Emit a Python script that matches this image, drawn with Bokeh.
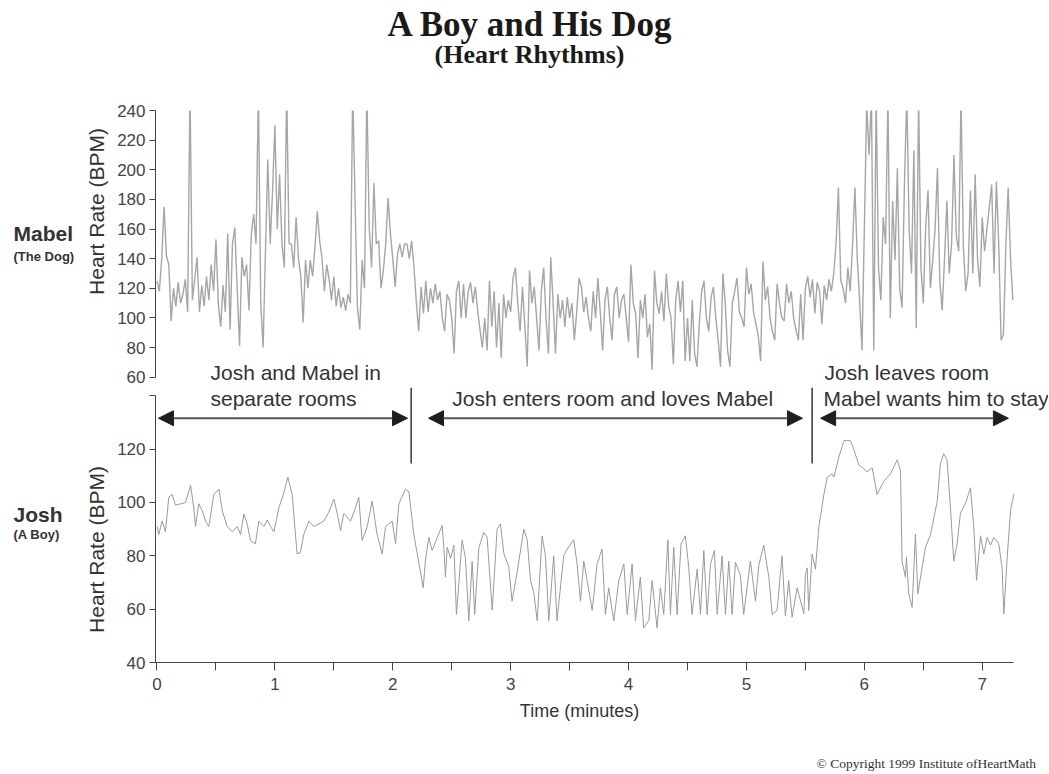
import numpy as np
from bokeh.plotting import figure
from bokeh.layouts import column, row
from bokeh.models import Label, Arrow, NormalHead, FixedTicker, Range1d, ColumnDataSource
from bokeh.embed import file_html
from bokeh.resources import INLINE

# ---------------- data ----------------
# Mabel (the dog): one reading every 1.2 s (0.02 min)
mabel_step_min = 0.02
mabel_apart = [
    125, 118, 140, 175, 142, 136, 98, 120, 108, 124,
    110, 116, 126, 104, 255, 112, 126, 141, 104, 122,
    108, 128, 112, 136, 118, 153, 110, 94, 122, 104,
    157, 92, 150, 161, 120, 81, 141, 128, 136, 105,
    157, 170, 150, 255, 110, 80, 145, 207, 150, 185,
    230, 160, 197, 150, 134, 255, 150, 150, 134, 168,
    140, 128, 97, 139, 120, 139, 128, 148, 172, 152,
    140, 118, 136, 126, 112, 128, 108, 120, 107, 114,
    105, 116, 110, 255, 179, 107, 92, 139, 120, 255,
    161, 134, 191, 150, 152, 120, 132, 150, 181, 157,
    140, 121, 143, 150, 141, 150, 150, 140,
]
mabel_together = [
    152, 134, 110, 91, 121, 103, 125, 104, 120, 110,
    123, 112, 118, 100, 91, 116, 112, 100, 76, 118,
    125, 100, 123, 100, 118, 124, 110, 121, 105, 92,
    80, 100, 78, 125, 94, 118, 80, 110, 73, 116,
    100, 112, 104, 127, 134, 110, 91, 121, 95, 67,
    132, 110, 121, 100, 78, 118, 134, 100, 76, 141,
    110, 76, 116, 100, 112, 94, 114, 100, 110, 85,
    104, 127, 121, 104, 114, 100, 91, 118, 100, 127,
    104, 78, 112, 121, 100, 85, 116, 121, 100, 112,
    116, 100, 84, 136, 110, 103, 73, 112, 100, 116,
    87, 96, 65, 132, 110, 103, 118, 98, 130, 108,
    100, 69, 112, 125, 104, 125, 71, 100, 71, 112,
    76, 67, 96, 118, 125, 100, 91, 114, 121, 100,
    85, 67, 130, 110, 78, 67, 110, 118, 127, 104,
    100, 94, 134, 116, 123, 104, 96, 88, 71, 138,
    112, 121, 100, 91, 85, 123, 110, 100, 98, 123,
    110, 118, 100, 92, 85, 116, 85, 120, 128, 114,
]
mabel_left = [
    126, 103, 124, 118, 96, 122, 112, 126, 118, 130,
    150, 188, 125, 120, 110, 134, 118, 150, 188, 140,
    112, 78, 160, 245, 210, 250, 78, 250, 134, 112,
    168, 150, 250, 100, 179, 139, 201, 120, 107, 190,
    250, 160, 130, 213, 93, 250, 134, 110, 161, 186,
    120, 139, 160, 201, 125, 105, 140, 179, 130, 150,
    210, 155, 145, 250, 148, 118, 130, 186, 130, 197,
    140, 121, 168, 145, 160, 175, 190, 130, 192, 150,
    85, 89, 148, 188, 140, 112,
]

# Josh (the boy): (seconds, BPM)
josh_seconds = [
    0.1, 0.9, 2.6, 4.3, 6.0, 7.7, 9.4, 12.0, 14.5, 17.1, 18.7, 19.6, 21.3, 23.0,
    24.7, 26.4, 28.9, 31.5, 33.2, 35.7, 38.3, 40.8, 42.5, 44.2, 45.9, 47.6, 50.1,
    51.8, 54.4, 56.1, 57.8, 59.5, 62.0, 64.5, 66.6, 68.8, 71.3, 73.0, 74.7, 77.3,
    79.8, 82.4, 84.9, 87.4, 90.0, 91.7, 93.4, 95.1, 98.5, 101.0, 102.7, 104.4,
    107.0, 109.5, 112.0, 114.6, 116.3, 118.0, 119.7, 121.4, 123.1, 126.5, 128.2,
    130.7, 133.2,
    135.5, 136.6, 138.3, 140.0, 145.1, 146.0, 146.8, 147.7, 149.4, 151.1, 152.4,
    155.3, 157.0, 158.7, 160.4, 161.7, 163.8, 166.3, 168.0, 170.6, 173.1, 174.8,
    176.5, 179.0, 180.7, 183.3, 186.7, 188.4, 190.1, 191.8, 193.5, 196.0, 197.7,
    199.4, 201.9, 203.6, 207.0, 208.7, 212.1, 213.8, 215.5, 217.2, 218.9, 221.5,
    224.0, 226.5, 228.2, 229.9, 232.5, 235.0, 237.6, 239.3, 241.8, 243.5, 246.0,
    247.7, 250.3, 252.0, 254.5, 256.2, 257.9, 260.0, 261.3, 263.0, 264.7, 266.7,
    268.9, 270.6, 272.3, 274.9, 276.6, 278.3, 280.0, 281.7, 283.7, 285.1, 287.6,
    289.3, 291.0, 292.7, 294.4, 296.9, 298.6, 302.0, 304.6, 306.3, 308.8, 311.4,
    313.1, 315.6, 318.1, 319.8, 321.5, 323.2, 325.8,
    329.2, 330.0, 330.9, 331.7, 333.4, 335.1, 336.8, 339.4, 341.1, 343.6, 344.5,
    347.0, 348.7, 349.6, 352.9, 354.6, 357.2, 359.7, 361.4, 364.0, 366.5, 369.9,
    373.3, 376.7, 378.4, 379.2, 380.9, 381.4, 382.6, 384.3, 386.0, 387.2, 388.6,
    391.1, 393.7, 395.4, 397.1, 398.7, 400.4, 402.1, 403.8, 405.5, 407.2, 408.9,
    411.5, 414.0, 415.7, 417.1, 419.1, 420.8, 422.5, 424.2, 425.9, 428.4, 430.1,
    431.0, 432.7, 434.4, 436.1,
]
josh_bpm = [
    91, 88, 93, 89, 102, 103, 99, 99.5, 100, 106.5, 98, 91, 99.5, 97,
    93, 91, 103, 105, 97, 91, 89, 91, 88, 95.7, 92, 85.7, 84.5,
    93, 91, 93.4, 91, 89, 98, 103.5, 109.5, 103, 80.7, 81.3, 88, 93,
    91, 92, 93, 96.3, 101.3, 96, 89.5, 96, 93, 98, 102, 85.7,
    91, 100.5, 88, 80.7, 91, 92, 93, 84.5, 99.5, 105, 104,
    88, 77.6,
    68, 78, 87, 82, 91.4, 83.2, 72, 83.2, 79, 84, 58,
    86, 79, 55.7, 78, 58, 83, 88.8, 87, 59.6, 90, 92,
    81, 76, 63, 74, 90, 86, 70.7, 66, 55.7, 87.5, 80,
    55.7, 80, 55.7, 80, 82.5, 86, 77, 63, 78, 70.7, 59.6,
    77, 82.5, 58, 68, 55.7, 70.7, 77, 58, 77, 55.7, 72,
    53, 55.7, 70.7, 53, 68, 58, 86, 58, 83.2, 58, 84.5,
    87.5, 76, 58, 75, 58, 82, 58, 77, 82, 58, 80,
    58, 78, 58, 77.6, 72.7, 58, 78, 63, 76.5, 84, 72,
    58, 59.6, 80, 57.5, 70.7, 57, 68,
    58.3, 73, 75.5, 59.5, 80.7, 75, 90.7, 103, 109.5, 110.7, 109.5,
    117, 121, 123.2, 123.2, 120, 114, 112.7, 111.5, 113, 103, 108,
    110.7, 116, 112, 78, 72, 79.5, 65.7, 60.7, 88.2, 65.7, 72,
    83.2, 88, 94.3, 100.5, 114.5, 118.3, 116, 98.2, 78, 84.5, 96,
    99.7, 105.5, 90.7, 70.8, 87.5, 80.7, 86.9, 84, 86.9, 84.5, 75.5,
    58.3, 79.5, 97, 103.2,
]

# axes
x_major_ticks = [0, 1, 2, 3, 4, 5, 6, 7]
x_minor_ticks = [0.5, 1.5, 2.5, 3.5, 4.5, 5.5, 6.5]
mabel_ticks = [60, 80, 100, 120, 140, 160, 180, 200, 220, 240]
josh_ticks = [40, 60, 80, 100, 120]
josh_top_tick = [140]

# phases (minutes)
phase_breaks = [2.156, 5.557]
phase_arrow_starts = [0.0127, 2.303, 5.629]
phase_arrow_ends = [2.125, 5.475, 7.222]

# ---------------- build ----------------
mabel_values = mabel_apart + mabel_together + mabel_left
mabel_minutes = [i * mabel_step_min for i in range(len(mabel_values))]
josh_minutes = [s / 60.0 for s in josh_seconds]

SANS = "Liberation Sans"
SERIF = "Liberation Serif"
TXT = "#333333"
AX = "#444444"

X0, X_AXIS_END, X1 = -0.0127, 7.2647, 7.562
x_range = Range1d(X0, X1)

W_LEFT = 112
W_MAIN = 1048 - W_LEFT
SPLIT = 387          # page row where the upper panel's canvas ends
B_BOTTOM = 702       # page row where the lower panel's canvas ends
A_TOP_BPM = 240
A_PX = 1.48168       # px per BPM, upper panel
B_PX = 2.66667       # px per BPM, lower panel
A_LOW = A_TOP_BPM - (SPLIT - 110) / A_PX
B_HIGH = 40 + (662 - SPLIT) / B_PX


def blank(w, h, xr, yr):
    f = figure(width=w, height=h, x_range=xr, y_range=yr, x_axis_location=None,
               y_axis_location=None, output_backend="svg", toolbar_location=None,
               min_border=0)
    f.outline_line_color = None
    f.grid.grid_line_color = None
    return f


header = blank(1048, 100, Range1d(0, 1048), Range1d(0, 100))
side = blank(W_LEFT, 673, Range1d(0, W_LEFT), Range1d(0, 673))
# the footer's frame is aligned with the panels' frames (page x 155..1048)
footer = blank(W_MAIN, 773 - B_BOTTOM, Range1d(155, 1048), Range1d(0, 773 - B_BOTTOM))

pA = figure(width=W_MAIN, height=SPLIT - 100, x_range=x_range,
            y_range=Range1d(A_LOW, A_TOP_BPM),
            x_axis_location=None, output_backend="svg", toolbar_location=None,
            min_border_left=43, min_border_right=0, min_border_top=10, min_border_bottom=0)
pB = figure(width=W_MAIN, height=B_BOTTOM - SPLIT, x_range=x_range,
            y_range=Range1d(40, B_HIGH),
            output_backend="svg", toolbar_location=None,
            min_border_left=43, min_border_right=0, min_border_top=0,
            min_border_bottom=B_BOTTOM - 662)

for p in (pA, pB):
    p.outline_line_color = None
    p.grid.grid_line_color = None
    p.yaxis.axis_line_color = AX
    p.yaxis.major_tick_line_color = AX
    p.yaxis.minor_tick_line_color = AX
    p.yaxis.major_tick_in = 0
    p.yaxis.major_tick_out = 6
    p.yaxis.minor_tick_in = 0
    p.yaxis.major_label_text_font = SANS
    p.yaxis.major_label_text_font_size = "17px"
    p.yaxis.major_label_text_color = AX
    p.yaxis.major_label_standoff = 4

pA.yaxis.ticker = FixedTicker(ticks=mabel_ticks)
pA.yaxis.minor_tick_out = 0
pA.yaxis.bounds = (60, 240)

pB.yaxis.ticker = FixedTicker(ticks=josh_ticks, minor_ticks=josh_top_tick)
pB.yaxis.minor_tick_out = 6
pB.yaxis.bounds = (40, 140)

pB.xaxis.ticker = FixedTicker(ticks=x_major_ticks, minor_ticks=x_minor_ticks)
pB.xaxis.bounds = (X0, X_AXIS_END)
pB.xaxis.axis_line_color = AX
pB.xaxis.major_tick_line_color = AX
pB.xaxis.minor_tick_line_color = AX
pB.xaxis.major_tick_in = 0
pB.xaxis.minor_tick_in = 0
pB.xaxis.major_tick_out = 8
pB.xaxis.minor_tick_out = 8
pB.xaxis.major_label_text_font = SANS
pB.xaxis.major_label_text_font_size = "17px"
pB.xaxis.major_label_text_color = AX
pB.xaxis.major_label_standoff = 7

# series
pA.line(x="t", y="v", source=ColumnDataSource(dict(t=mabel_minutes, v=mabel_values)),
        line_color="#a6a6a6", line_width=1.4)
pB.line(x="t", y="v", source=ColumnDataSource(dict(t=josh_minutes, v=josh_bpm)),
        line_color="#9a9a9a", line_width=1.0)

# phase separators and arrows
pB.segment(x0=phase_breaks, y0=[114.6] * len(phase_breaks), x1=phase_breaks,
           y1=[B_HIGH] * len(phase_breaks), line_color="#444444", line_width=1.6)
for xs, xe in zip(phase_arrow_starts, phase_arrow_ends):
    pB.add_layout(Arrow(
        start=NormalHead(size=15, fill_color="#1e1e1e", line_color="#1e1e1e"),
        end=NormalHead(size=15, fill_color="#1e1e1e", line_color="#1e1e1e"),
        x_start=xs, y_start=131.6, x_end=xe, y_end=131.6,
        line_color="#555555", line_width=2.2))


# page-pixel -> data helpers for text placement
def y_header(py): return 100 - py
def y_side(py): return 773 - py
def y_footer(py): return 773 - py
def y_A(py): return A_TOP_BPM - (py - 110) / A_PX
def y_B(py): return 40 + (662 - py) / B_PX


def lab(p, x, py, yfun, text, font=SANS, size=21, style="normal", color=TXT,
        align="left", baseline="alphabetic", angle=0.0):
    # py is the wanted baseline on the page; the svg text sits ~0.3em+2px lower
    if baseline == "alphabetic":
        py = py - (0.3 * size + 2)
    p.add_layout(Label(x=x, y=yfun(py), text=text, text_font=font,
                       text_font_size=f"{size}px", text_font_style=style,
                       text_color=color, text_align=align, text_baseline=baseline,
                       angle=angle))


# titles
lab(header, 530, 36.7, y_header, "A Boy and His Dog", font=SERIF, size=35,
    style="bold", color="#1a1a1a", align="center")
lab(header, 529, 63.3, y_header, "(Heart Rhythms)", font=SERIF, size=26,
    style="bold", color="#1a1a1a", align="center")

# side names and y titles
lab(side, 13, 241.7, y_side, "Mabel", size=21, style="bold")
lab(side, 13, 261.7, y_side, "(The Dog)", size=13, style="bold")
lab(side, 13, 522.7, y_side, "Josh", size=21, style="bold")
lab(side, 13, 540, y_side, "(A Boy)", size=13, style="bold")
lab(side, 96, 211, y_side, "Heart Rate (BPM)", size=21, align="center",
    baseline="middle", angle=np.pi / 2)
lab(side, 96, 549, y_side, "Heart Rate (BPM)", size=21, align="center",
    baseline="middle", angle=np.pi / 2)

# phase texts
lab(pA, 0.4538, 380, y_A, "Josh and Mabel in")
lab(pB, 0.4538, 406, y_B, "separate rooms")
lab(pB, 2.504, 406, y_B, "Josh enters room and loves Mabel")
lab(pA, 5.6616, 380, y_A, "Josh leaves room")
lab(pB, 5.653, 406, y_B, "Mabel wants him to stay")

# x axis title and copyright (footer x = page x)
lab(footer, 579, 718, y_footer, "Time (minutes)", size=18, align="center")
lab(footer, 816, 769, y_footer, "© Copyright 1999 Institute ofHeartMath",
    font=SERIF, size=13.5)

layout = column(header, row(side, column(pA, pB, footer, spacing=0), spacing=0), spacing=0)
open("out.html", "w").write(file_html(layout, INLINE, "A Boy and His Dog"))
